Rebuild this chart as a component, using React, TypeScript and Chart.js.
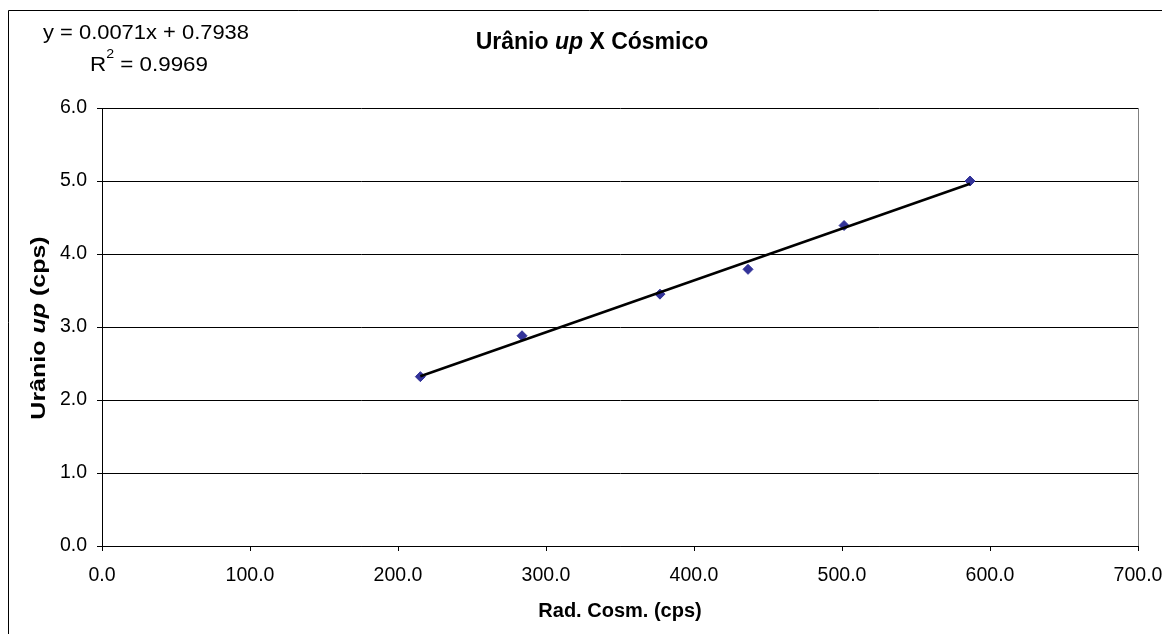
import React, { useEffect, useRef } from "react";
import { Chart, registerables } from "chart.js";

Chart.register(...registerables);

// ---- data ----
const radCosm: number[] = [215.1, 283.8, 377.0, 436.5, 501.4, 586.5];
const uranioUp: number[] = [2.32, 2.88, 3.45, 3.79, 4.39, 5.0];
const xTickValues: number[] = [0, 100, 200, 300, 400, 500, 600, 700];
const yTickValues: number[] = [0, 1, 2, 3, 4, 5, 6];

type Part = { text: string; italic: boolean };
const titleParts: Part[] = [
  { text: "Urânio ", italic: false },
  { text: "up", italic: true },
  { text: " X Cósmico", italic: false },
];
const yTitleParts: Part[] = [
  { text: "Urânio ", italic: false },
  { text: "up", italic: true },
  { text: " (cps)", italic: false },
];
const xTitle = "Rad. Cosm. (cps)";
const equationText = "y = 0.0071x + 0.7938";
const r2Prefix = "R";
const r2Sup = "2";
const r2Rest = " = 0.9969";

const FONT = '"Liberation Sans", Arial, Helvetica, sans-serif';

function regression(xs: number[], ys: number[]) {
  const n = xs.length;
  const mx = xs.reduce((a, b) => a + b, 0) / n;
  const my = ys.reduce((a, b) => a + b, 0) / n;
  let sxy = 0;
  let sxx = 0;
  for (let i = 0; i < n; i++) {
    sxy += (xs[i] - mx) * (ys[i] - my);
    sxx += (xs[i] - mx) * (xs[i] - mx);
  }
  const slope = sxy / sxx;
  return { slope, intercept: my - slope * mx };
}

function drawParts(
  ctx: CanvasRenderingContext2D,
  parts: Part[],
  size: number,
  cx: number,
  cy: number
) {
  const fontFor = (p: Part) => `${p.italic ? "italic " : ""}bold ${size}px ${FONT}`;
  let total = 0;
  const widths = parts.map((p) => {
    ctx.font = fontFor(p);
    const w = ctx.measureText(p.text).width;
    total += w;
    return w;
  });
  let x = cx - total / 2;
  ctx.textBaseline = "middle";
  ctx.textAlign = "left";
  ctx.fillStyle = "#000";
  parts.forEach((p, i) => {
    ctx.font = fontFor(p);
    ctx.fillText(p.text, x, cy);
    x += widths[i];
  });
}

const decorPlugin = {
  id: "decor",
  beforeDatasetsDraw(chart: any) {
    const { ctx, chartArea } = chart;
    ctx.save();
    ctx.strokeStyle = "#808080";
    ctx.lineWidth = 1;
    ctx.beginPath();
    ctx.moveTo(Math.round(chartArea.right) + 0.5, chartArea.top);
    ctx.lineTo(Math.round(chartArea.right) + 0.5, chartArea.bottom);
    ctx.stroke();
    ctx.restore();
  },
  afterDraw(chart: any) {
    const { ctx, chartArea, width, height } = chart;
    ctx.save();
    // outer frame (extends beyond the visible area on right and bottom)
    ctx.strokeStyle = "#000";
    ctx.lineWidth = 1;
    ctx.beginPath();
    ctx.moveTo(0.5, height);
    ctx.lineTo(0.5, 2.5);
    ctx.lineTo(width, 2.5);
    ctx.stroke();

    // chart title
    drawParts(ctx, titleParts, 23, 584, 35);

    // x axis title
    drawParts(ctx, [{ text: xTitle, italic: false }], 20, (chartArea.left + chartArea.right) / 2, 603);

    // y axis title (rendered stretched along its length, like the original)
    ctx.save();
    ctx.translate(31, 320);
    ctx.rotate(-Math.PI / 2);
    ctx.scale(1.25, 1);
    drawParts(ctx, yTitleParts, 20, 0, 0);
    ctx.restore();

    // trendline equation
    ctx.fillStyle = "#000";
    ctx.textAlign = "left";
    ctx.textBaseline = "alphabetic";
    ctx.font = `20.5px ${FONT}`;
    const w1 = ctx.measureText(equationText).width;
    const s1 = 206 / w1;
    ctx.save();
    ctx.translate(138 - 103, 31);
    ctx.scale(s1, 1);
    ctx.fillText(equationText, 0, 0);
    ctx.restore();

    const wR = ctx.measureText(r2Prefix).width;
    const wRest = ctx.measureText(r2Rest).width;
    ctx.font = `13px ${FONT}`;
    const wSup = ctx.measureText(r2Sup).width;
    const total = wR + wSup + wRest;
    const s2 = 118 / total;
    ctx.save();
    ctx.translate(141 - 59, 63);
    ctx.scale(s2, 1);
    let x = 0;
    ctx.font = `20.5px ${FONT}`;
    ctx.fillText(r2Prefix, x, 0);
    x += wR;
    ctx.font = `13px ${FONT}`;
    ctx.fillText(r2Sup, x, -13);
    x += wSup;
    ctx.font = `20.5px ${FONT}`;
    ctx.fillText(r2Rest, x, 0);
    ctx.restore();
    ctx.restore();
  },
};

export default function App() {
  const canvasRef = useRef<HTMLCanvasElement | null>(null);

  useEffect(() => {
    if (!canvasRef.current) return;
    const { slope, intercept } = regression(radCosm, uranioUp);
    const xMin = Math.min(...radCosm);
    const xMax = Math.max(...radCosm);
    const trend = [
      { x: xMin, y: slope * xMin + intercept },
      { x: xMax, y: slope * xMax + intercept },
    ];
    const points = radCosm.map((x, i) => ({ x, y: uranioUp[i] }));

    const chart = new Chart(canvasRef.current, {
      type: "scatter",
      data: {
        datasets: [
          {
            type: "line",
            label: "Linear",
            data: trend,
            borderColor: "#000000",
            borderWidth: 2.5,
            pointRadius: 0,
            fill: false,
            order: 0,
          } as any,
          {
            label: "Urânio up",
            data: points,
            pointStyle: "rectRot",
            pointRadius: 5,
            backgroundColor: "#333399",
            borderColor: "#333399",
            borderWidth: 1,
            showLine: false,
            order: 1,
          },
        ],
      },
      options: {
        animation: false,
        responsive: false,
        devicePixelRatio: 1,
        layout: { padding: { left: 0, top: 100, right: 32, bottom: 0 } },
        plugins: {
          legend: { display: false },
          tooltip: { enabled: false },
          title: { display: false },
        },
        scales: {
          x: {
            type: "linear",
            min: 0,
            max: 700,
            afterFit: (scale: any) => {
              scale.height = 88;
              scale.paddingLeft = 0;
              scale.paddingRight = 0;
            },
            afterBuildTicks: (scale: any) => {
              scale.ticks = xTickValues.map((v) => ({ value: v }));
            },
            ticks: {
              color: "#000",
              font: { family: FONT, size: 19.5 },
              padding: 13,
              maxRotation: 0,
              autoSkip: false,
              callback: (v: any) => Number(v).toFixed(1),
            },
            grid: {
              drawOnChartArea: false,
              drawTicks: true,
              tickLength: 5,
              color: "#000",
            },
            border: { color: "#000", width: 1 },
          },
          y: {
            type: "linear",
            min: 0,
            max: 6,
            afterFit: (scale: any) => {
              scale.width = 94;
            },
            afterBuildTicks: (scale: any) => {
              scale.ticks = yTickValues.map((v) => ({ value: v }));
            },
            ticks: {
              color: "#000",
              font: { family: FONT, size: 19.5 },
              padding: 10,
              autoSkip: false,
              callback: (v: any) => Number(v).toFixed(1),
            },
            grid: {
              drawOnChartArea: true,
              drawTicks: true,
              tickLength: 5,
              color: "#000",
              lineWidth: 1,
            },
            border: { color: "#000", width: 1 },
          },
        },
      },
      plugins: [decorPlugin],
    });
    return () => chart.destroy();
  }, []);

  return (
    <div style={{ width: 1162, height: 626 }}>
      <canvas
        ref={canvasRef}
        width={1162}
        height={626}
        style={{ display: "block", width: 1162, height: 626 }}
      />
    </div>
  );
}
